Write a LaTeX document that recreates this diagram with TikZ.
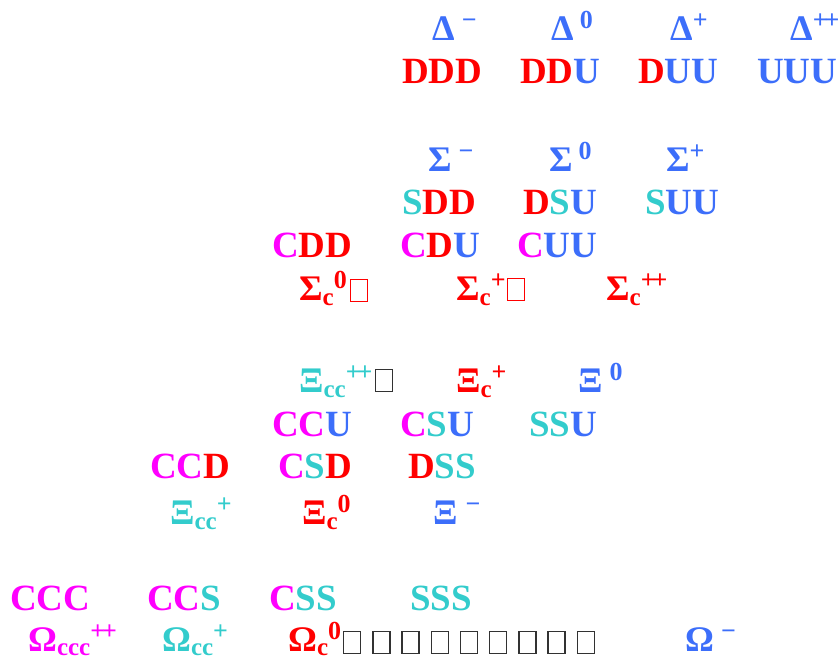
\documentclass[tikz,border=0pt]{standalone}
\usepackage{fontspec}
\setmainfont{Liberation Serif}
\definecolor{qblue}{RGB}{60,110,250}
\definecolor{qred}{RGB}{255,0,0}
\definecolor{qmag}{RGB}{255,0,255}
\definecolor{qcyan}{RGB}{51,204,204}
\definecolor{tofugray}{RGB}{50,50,50}
\newcommand\qB{\color{qblue}}
\newcommand\qR{\color{qred}}
\newcommand\qM{\color{qmag}}
\newcommand\qC{\color{qcyan}}
\newcommand\Sp[1]{\raisebox{12pt}{\fontsize{26}{26}\selectfont\bfseries #1}}
\newcommand\Sb[1]{\raisebox{-5pt}{\fontsize{25}{25}\selectfont\bfseries #1}}
\newcommand\Sbb[1]{\raisebox{-4pt}{\fontsize{25}{25}\selectfont\bfseries #1}}
\newcommand\pp{+\kern-3pt+}
\begin{document}
\begin{tikzpicture}[x=1pt,y=-1pt,
  quark/.style={anchor=base west,inner sep=0pt,font=\fontsize{37}{40}\selectfont\bfseries},
  lab/.style={anchor=base west,inner sep=0pt,font=\fontsize{36}{38}\selectfont\bfseries},
  tofu/.style={draw,line width=1.3pt,anchor=north west,inner sep=0pt,minimum width=17pt,minimum height=22pt}]
\useasboundingbox (0,0) rectangle (840,660);
% Delta row
\node[lab,qblue] (d1) at (432,41) {Δ\hspace{7pt}\Sp{−}};
\node[lab,qblue] (d2) at (551,41) {Δ\hspace{6pt}\Sp{0}};
\node[lab,qblue] (d3) at (670,41) {Δ\Sp{+}};
\node[lab,qblue] (d4) at (790,41) {Δ\Sp{\pp}};
\node[quark] (q1) at (402,84) {\qR DDD};
\node[quark] (q2) at (520,84) {\qR DD\qB U};
\node[quark] (q3) at (638,84) {\qR D\qB UU};
\node[quark] (q4) at (757,84) {\qB UUU};
% Sigma row
\node[lab,qblue] (s1) at (428,172) {Σ\hspace{7pt}\Sp{−}};
\node[lab,qblue] (s2) at (549,172) {Σ\hspace{6pt}\Sp{0}};
\node[lab,qblue] (s3) at (666,172) {Σ\Sp{+}};
\node[quark] (q5) at (402,215) {\qC S\qR DD};
\node[quark] (q6) at (523,215) {\qR D\qC S\qB U};
\node[quark] (q7) at (645,215) {\qC S\qB UU};
% charmed sigma
\node[quark] (q8) at (272,258) {\qM C\qR DD};
\node[quark] (q9) at (400,258) {\qM C\qR D\qB U};
\node[quark] (q10) at (517,258) {\qM C\qB UU};
\node[lab,qred] (sc1) at (299,300) {Σ\Sb{c}\Sp{0}};
\node[tofu,qred] (t1) at (350,279) {};
\node[lab,qred] (sc2) at (456,300) {Σ\Sb{c}\Sp{+}};
\node[tofu,qred] (t2) at (507,278) {};
\node[lab,qred] (sc3) at (606,300) {Σ\Sb{c}\Sp{\pp}};
% Xi rows
\node[lab,qcyan] (x1) at (299,392) {Ξ\Sb{cc}\Sp{\pp}};
\node[tofu,tofugray] (t3) at (375,369) {};
\node[lab,qred] (x2) at (456,392) {Ξ\Sb{c}\Sp{+}};
\node[lab,qblue] (x3) at (578,392) {Ξ\hspace{7pt}\Sp{0}};
\node[quark] (q11) at (272,436) {\qM CC\qB U};
\node[quark] (q12) at (400,436) {\qM C\qC S\qB U};
\node[quark] (q13) at (529,436) {\qC SS\qB U};
\node[quark] (q14) at (150,478) {\qM CC\qR D};
\node[quark] (q15) at (278,478) {\qM C\qC S\qR D};
\node[quark] (q16) at (408,478) {\qR D\qC SS};
\node[lab,qcyan] (x4) at (170,524) {Ξ\Sb{cc}\Sp{+}};
\node[lab,qred] (x5) at (302,524) {Ξ\Sb{c}\Sp{0}};
\node[lab,qblue] (x6) at (433,524) {Ξ\hspace{8pt}\Sp{−}};
% Omega rows
\node[quark] (q17) at (10,610) {\qM CCC};
\node[quark] (q18) at (147,610) {\qM CC\qC S};
\node[quark] (q19) at (269,610) {\qM C\qC SS};
\node[quark] (q20) at (410,610) {\qC SSS};
\node[lab,qmag] (o1) at (28,651) {Ω\Sbb{ccc}\Sp{\pp}};
\node[lab,qcyan] (o2) at (162,651) {Ω\Sbb{cc}\Sp{+}};
\node[lab,qred] (o3) at (288,651) {Ω\Sbb{c}\Sp{0}};
\foreach \i in {0,...,8}{
  \node[tofu,tofugray] (tb\i) at ({343+29.2*\i},631) {};
}
\node[lab,qblue] (o4) at (685,651) {Ω\hspace{7pt}\Sp{−}};
\end{tikzpicture}
\end{document}
